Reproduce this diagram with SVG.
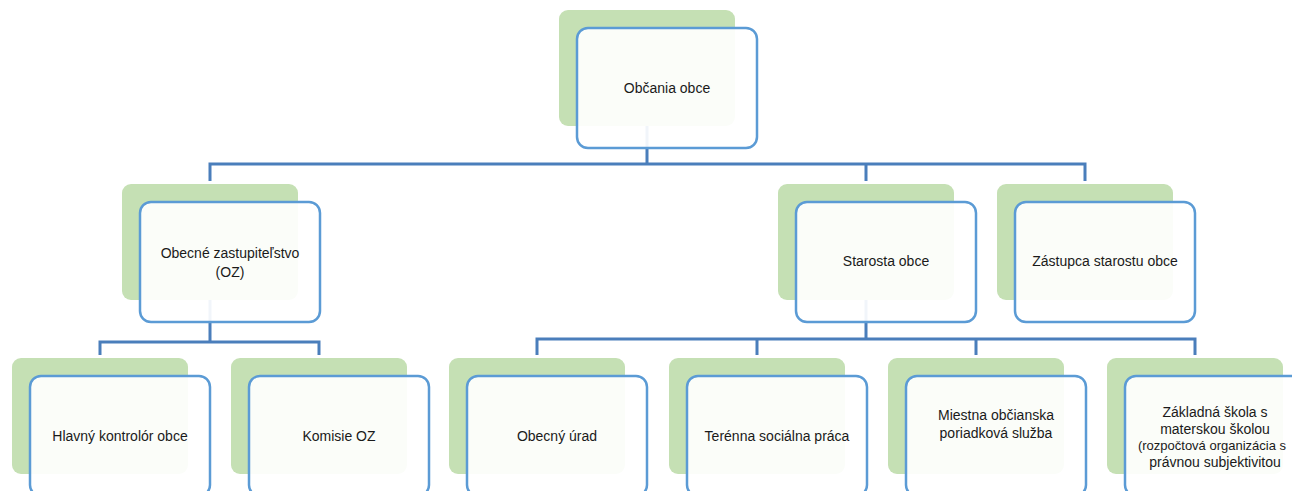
<svg xmlns="http://www.w3.org/2000/svg" width="1292" height="491" viewBox="0 0 1292 491">
<style>
.bg{fill:#c5e0b4}
.fg{fill:#ffffff;fill-opacity:0.92;stroke:#5b9bd5;stroke-width:2.5}
.conn{fill:none;stroke:#4a7ebb;stroke-width:3}
text{font-family:"Liberation Sans",Arial,sans-serif;font-size:14px;fill:#1a1a1a;text-anchor:middle}
</style>
<rect width="1292" height="491" fill="#ffffff"/>
<g id="connectors" class="conn">
<path d="M647,100 V164 M210,181 V164 H1085 V181 M866,164 V181"/>
<path d="M210,250 V342 M100,355 V342 H319 V355"/>
<path d="M866,250 V339 M537,355 V339 H1195 V355 M757,339 V355 M976,339 V355"/>
</g>
<g id="obcania">
<rect class="bg" x="559" y="10" width="176" height="116" rx="9"/>
<rect class="fg" x="577" y="28" width="180" height="120" rx="11"/>
<text x="667" y="93">Občania obce</text>
</g>
<g id="oz">
<rect class="bg" x="122" y="184" width="176" height="116" rx="9"/>
<rect class="fg" x="140" y="202" width="180" height="120" rx="11"/>
<text x="230" y="258">Obecné zastupiteľstvo</text>
<text x="230" y="277">(OZ)</text>
</g>
<g id="starosta">
<rect class="bg" x="778" y="184" width="176" height="116" rx="9"/>
<rect class="fg" x="796" y="202" width="180" height="120" rx="11"/>
<text x="886" y="266">Starosta obce</text>
</g>
<g id="zastupca">
<rect class="bg" x="997" y="184" width="176" height="116" rx="9"/>
<rect class="fg" x="1015" y="202" width="180" height="120" rx="11"/>
<text x="1105" y="266">Zástupca starostu obce</text>
</g>
<g id="kontrolor">
<rect class="bg" x="12" y="358" width="176" height="116" rx="9"/>
<rect class="fg" x="30" y="376" width="180" height="120" rx="11"/>
<text x="120" y="441">Hlavný kontrolór obce</text>
</g>
<g id="komisie">
<rect class="bg" x="231" y="358" width="176" height="116" rx="9"/>
<rect class="fg" x="249" y="376" width="180" height="120" rx="11"/>
<text x="339" y="441">Komisie OZ</text>
</g>
<g id="urad">
<rect class="bg" x="449" y="358" width="176" height="116" rx="9"/>
<rect class="fg" x="467" y="376" width="180" height="120" rx="11"/>
<text x="557" y="441">Obecný úrad</text>
</g>
<g id="terenna">
<rect class="bg" x="669" y="358" width="176" height="116" rx="9"/>
<rect class="fg" x="687" y="376" width="180" height="120" rx="11"/>
<text x="777" y="441">Terénna sociálna práca</text>
</g>
<g id="miestna">
<rect class="bg" x="888" y="358" width="176" height="116" rx="9"/>
<rect class="fg" x="906" y="376" width="180" height="120" rx="11"/>
<text x="996" y="420">Miestna občianska</text>
<text x="996" y="438">poriadková služba</text>
</g>
<g id="zakladna">
<rect class="bg" x="1107" y="358" width="176" height="116" rx="9"/>
<rect class="fg" x="1125" y="376" width="180" height="120" rx="11"/>
<text x="1215" y="417">Základná škola s</text>
<text x="1215" y="434">materskou školou</text>
<text x="1212" y="450" style="font-size:13px">(rozpočtová organizácia s</text>
<text x="1215" y="467">právnou subjektivitou</text>
</g>
</svg>
